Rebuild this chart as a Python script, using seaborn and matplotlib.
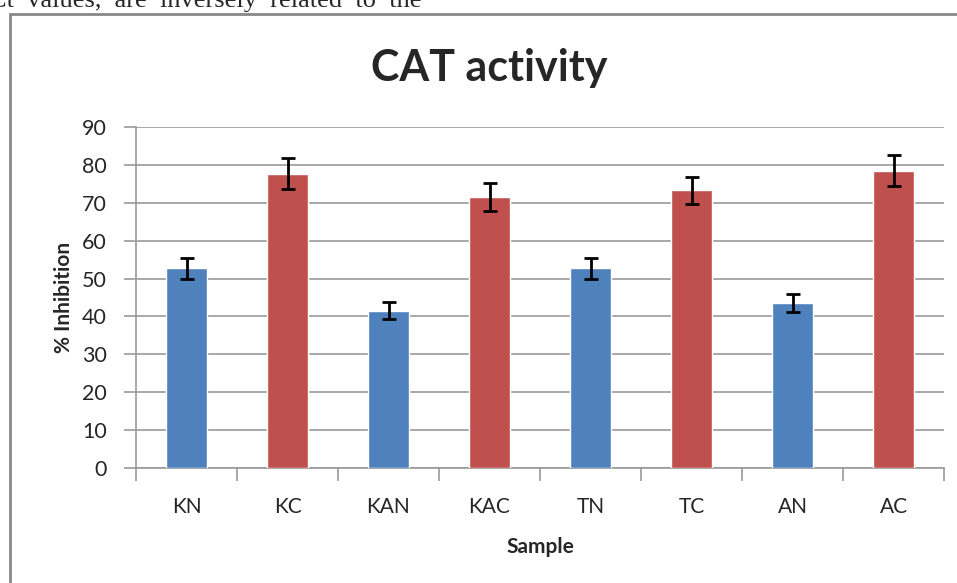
import matplotlib
matplotlib.use('Agg')
import matplotlib.pyplot as plt
import matplotlib.patches as patches
import seaborn as sns
import numpy as np

# Data
samples = ['KN', 'KC', 'KAN', 'KAC', 'TN', 'TC', 'AN', 'AC']
inhibition = [52.7, 77.7, 41.5, 71.5, 52.7, 73.3, 43.5, 78.5]
errors = [2.8, 4.0, 2.3, 3.8, 2.8, 3.6, 2.3, 4.1]
bar_colors = ['#4F81BD', '#C0504D', '#4F81BD', '#C0504D',
              '#4F81BD', '#C0504D', '#4F81BD', '#C0504D']
y_ticks = [0, 10, 20, 30, 40, 50, 60, 70, 80, 90]

sns.set_style('white')
plt.rcParams['font.family'] = ['Lato', 'DejaVu Sans']

fig = plt.figure(figsize=(9.57, 5.83), dpi=100)
ax = fig.add_axes([136 / 957, 1 - 468 / 583, (944 - 136) / 957, (468 - 127) / 583])

sns.barplot(x=samples, y=inhibition, hue=samples, palette=bar_colors,
            width=0.4, legend=False, saturation=1, ax=ax, zorder=3)
ax.errorbar(np.arange(len(samples)), inhibition, yerr=errors, fmt='none',
            ecolor='black', elinewidth=2, capsize=5, capthick=2, zorder=4)

ax.set_ylim(0, 90)
ax.set_xlim(-0.5, len(samples) - 0.5)
ax.set_yticks(y_ticks)
ax.yaxis.grid(True, color='#999999', linewidth=1.2, zorder=0)
ax.set_axisbelow(True)

for side in ['top', 'right']:
    ax.spines[side].set_visible(False)
for side in ['left', 'bottom']:
    ax.spines[side].set_color('#999999')
    ax.spines[side].set_linewidth(1.2)

# category boundary ticks on x, outward ticks on y
ax.set_xticks(np.arange(-0.5, len(samples)), minor=True)
ax.tick_params(axis='x', which='minor', direction='out', length=9,
               color='#999999', width=1.2, bottom=True)
ax.tick_params(axis='x', which='major', length=0, pad=21, labelsize=15)
ax.tick_params(axis='y', direction='out', length=9, color='#999999',
               width=1.2, left=True, pad=12, labelsize=15.5)

ax.set_xlabel('Sample', fontsize=15, fontweight='bold', labelpad=14)
ax.set_ylabel('% Inhibition', fontsize=15, fontweight='bold', labelpad=6)
fig.suptitle('CAT activity', fontsize=31, fontweight='bold', x=0.511, y=0.918)

# surrounding frame and clipped paragraph text from the source page
frame = patches.Rectangle((10 / 957, -0.1), 1.2, 1 - 14 / 583 + 0.1,
                          transform=fig.transFigure, fill=False,
                          edgecolor='#888888', linewidth=2)
fig.patches.append(frame)
fig.text(-0.012, 1 - 7 / 583, 'Ct  values,  are  inversely  related  to  the',
         fontsize=19, family=['Liberation Serif', 'DejaVu Serif'],
         va='baseline', ha='left')

fig.savefig('out.png', dpi=100)
